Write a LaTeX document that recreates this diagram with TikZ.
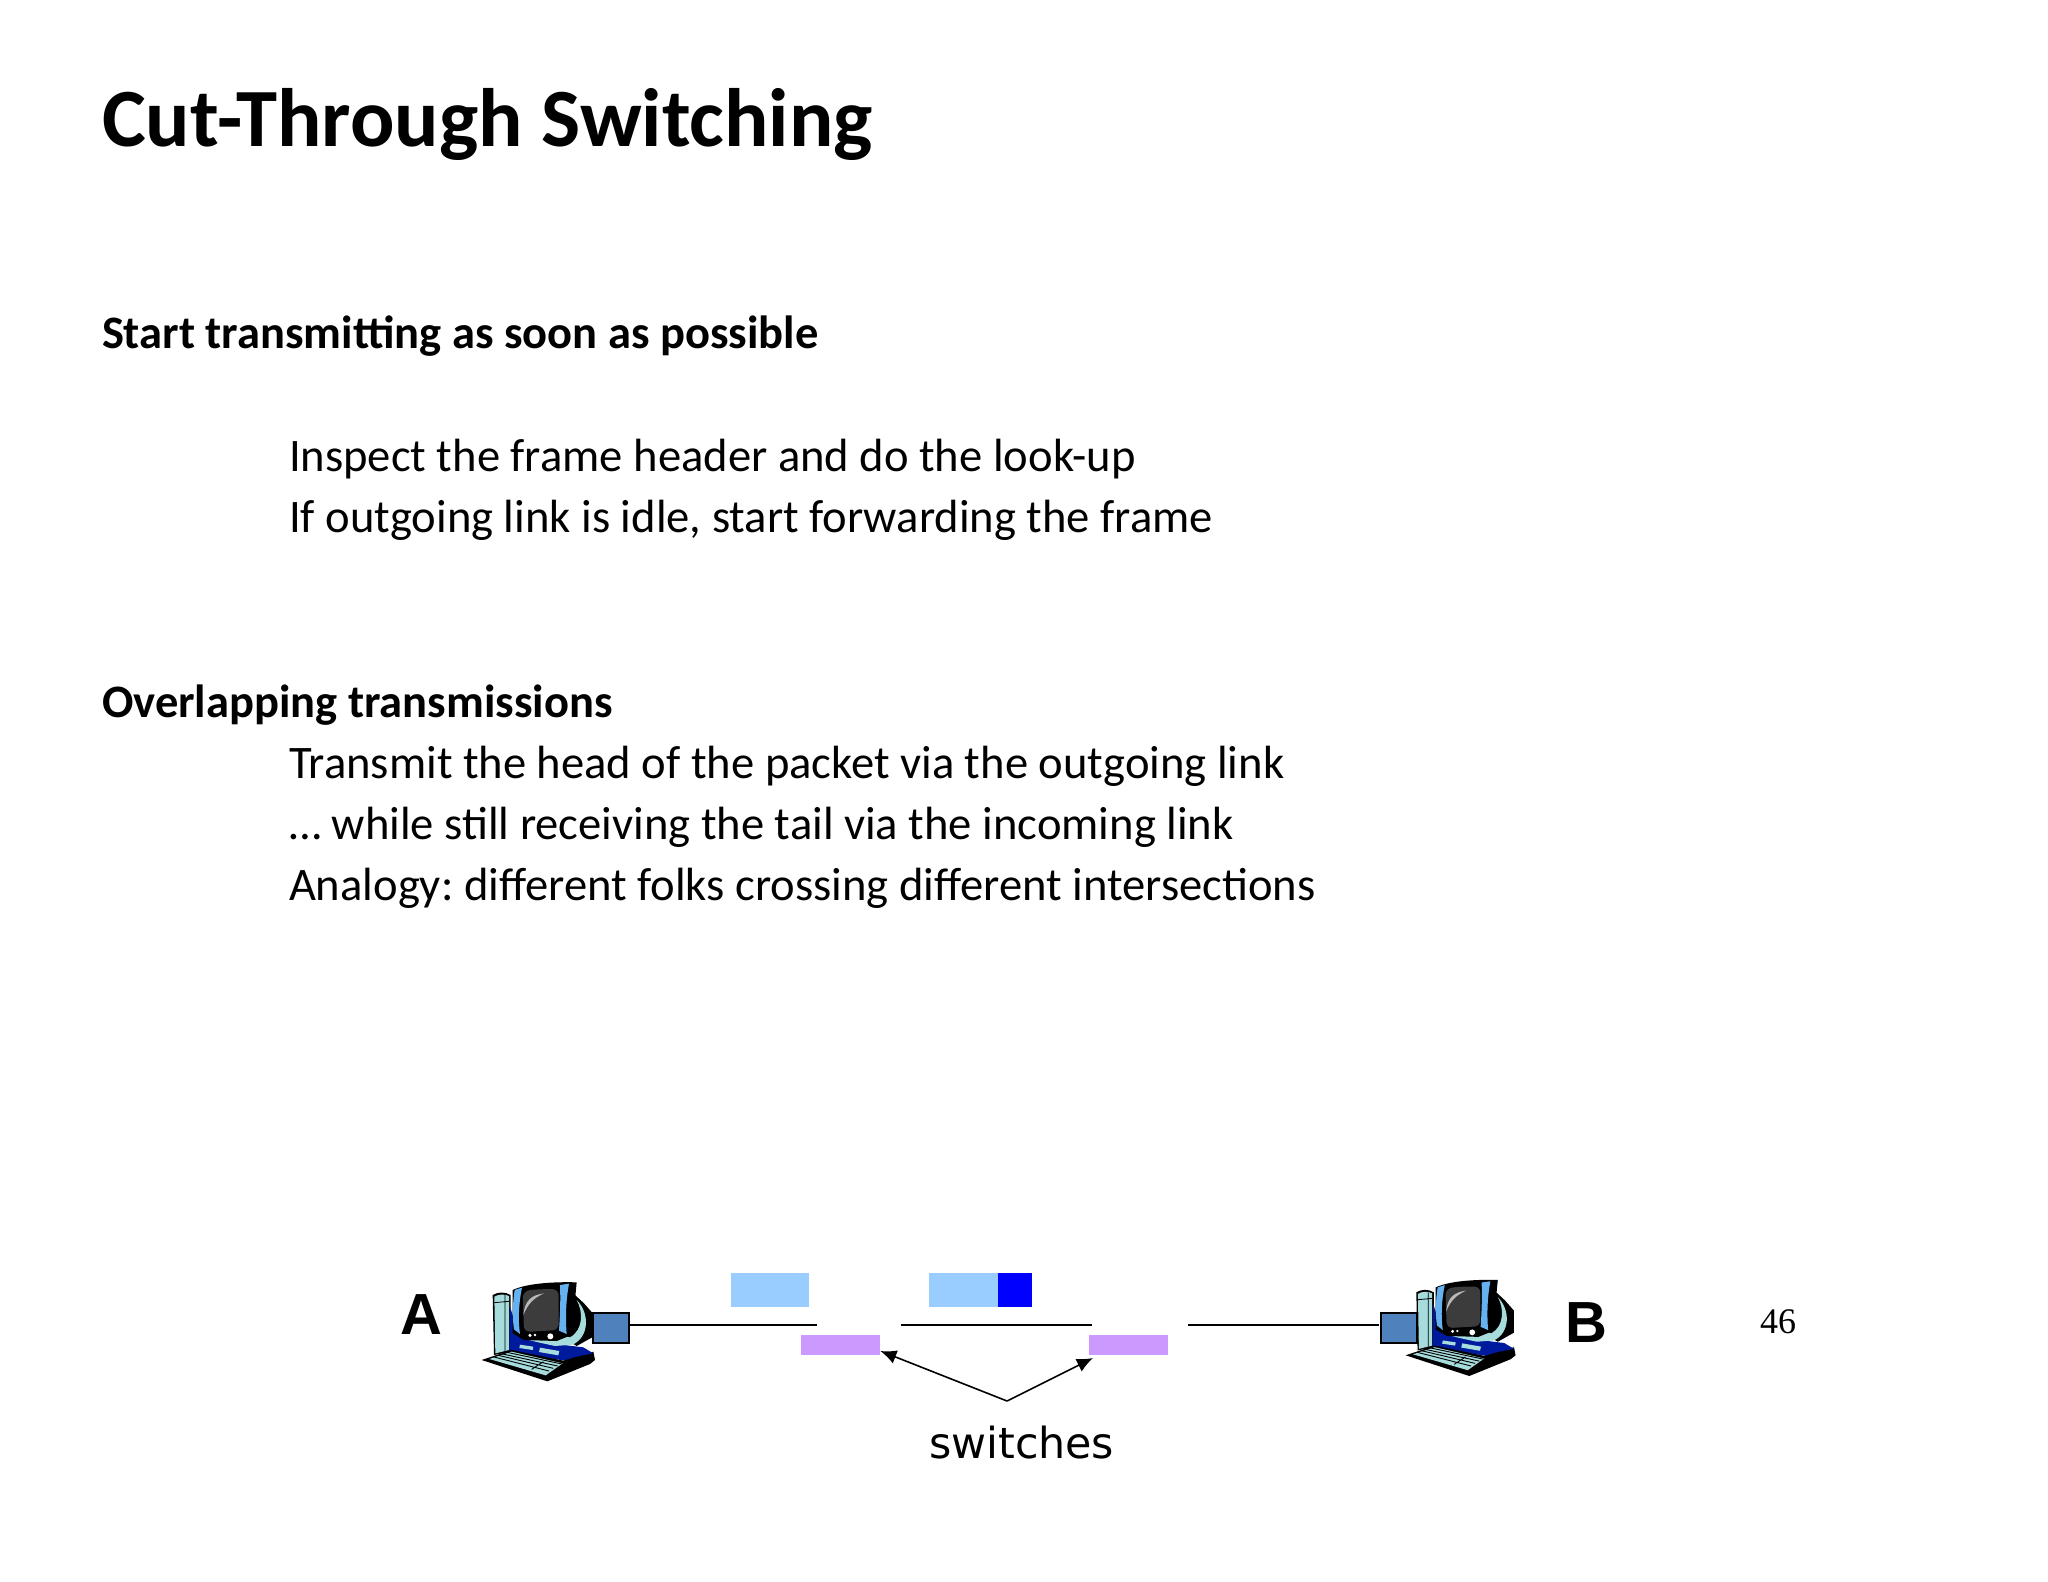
\documentclass[tikz,border=0pt]{standalone}
\usepackage{fontspec}
\setmainfont{Carlito}
\newfontfamily\arialfont{Liberation Sans}
\newfontfamily\timesfont{Liberation Serif}
\newfontfamily\handfont{DejaVu Sans}
\usetikzlibrary{arrows.meta,calc}
\definecolor{pktlight}{HTML}{99CCFF}
\definecolor{pktdark}{HTML}{0000FF}
\definecolor{swfill}{HTML}{CC99FF}
\definecolor{nicfill}{HTML}{4F81BD}
\definecolor{pcteal}{HTML}{A6DCDC}
\definecolor{pcblue}{HTML}{66B2F0}
\definecolor{pcnavy}{HTML}{001A9E}
\definecolor{pcscreen}{HTML}{3C3C3C}
\tikzset{
  txt/.style={anchor=base west,inner sep=0pt,outer sep=0pt,text=black},
  titletxt/.style={txt,font=\bfseries\fontsize{41.4}{46}\selectfont},
  headtxt/.style={txt,font=\bfseries\fontsize{23.25}{28}\selectfont},
  bodytxt/.style={txt,font=\fontsize{23.3}{28}\selectfont},
  endlabel/.style={txt,font=\arialfont\bfseries\fontsize{29}{32}\selectfont},
  box/.style={anchor=north west,inner sep=0pt,outer sep=0pt,draw=none},
  nic/.style={box,fill=nicfill,draw=black,line width=0.7pt},
  link/.style={draw=black,line width=0.9pt},
  pointer/.style={draw=black,line width=0.8pt,-{Latex[length=8pt,width=7pt]}},
  computer/.pic={
    % tower
    \fill[black] (338,165) .. controls (355,155) and (375,155) .. (392,165) -- (392,335) -- (342,345) -- cycle;
    \fill[pcteal] (343,170) .. controls (355,162) and (375,162) .. (387,168) -- (387,330) -- (346,340) -- cycle;
    \draw[black,line width=0.4pt] (343,188) -- (387,184) (375,165) -- (375,333);
    % base
    \fill[pcnavy] (390,200) -- (415,280) -- (470,305) -- (610,322) -- (642,342) -- (555,362) -- (388,335) -- cycle;
    % housing back
    \fill[black] (585,165) -- (612,190) -- (640,222) -- (640,290) -- (590,318) -- (560,300) -- cycle;
    % ring
    \fill[pcteal] (590,180) .. controls (630,220) and (628,290) .. (578,314) -- (525,318) -- (470,306) -- (440,298) -- (530,285) -- (570,292) .. controls (610,270) and (610,215) .. (590,180) -- cycle;
    % front frame
    \fill[black] (398,150) .. controls (440,130) and (520,125) .. (590,127) -- (575,285) -- (530,303) -- (432,300) -- (398,280) -- cycle;
    \fill[pcblue] (404,150) .. controls (412,147) and (420,145) .. (426,143) .. controls (416,190) and (414,240) .. (420,282) -- (402,268) .. controls (396,230) and (398,190) .. (404,150) -- cycle;
    \fill[pcblue] (540,135) -- (567,131) .. controls (558,180) and (556,230) .. (560,282) -- (537,272) .. controls (540,225) and (542,180) .. (540,135) -- cycle;
    \fill[pcscreen,rounded corners=3pt] (428,155) .. controls (460,148) and (500,147) .. (536,148) -- (536,270) -- (432,276) -- cycle;
    \fill[gray!55!white] (430,225) .. controls (435,180) and (455,165) .. (492,160) .. controls (460,175) and (445,190) .. (430,225) -- cycle;
    \fill[white] (450,286) circle[radius=5] (465,285) circle[radius=4] (511,289) circle[radius=9];
    % keyboard
    \fill[black] (305,360) -- (395,330) -- (550,362) -- (640,335) -- (645,360) -- (630,372) -- (502,424) -- cycle;
    \fill[pcteal] (328,357) -- (395,335) -- (548,370) -- (497,406) -- cycle;
    \draw[black,line width=0.45pt] (342,351) -- (507,393) (355,346) -- (520,385) (368,342) -- (533,378) (381,337) -- (546,372) (490,365) -- (455,388);
    \fill[pcteal] (420,314) -- (460,320) -- (458,330) -- (418,324) -- cycle;
    \fill[pcteal] (480,323) -- (538,333) -- (535,346) -- (477,336) -- cycle;
    \fill[pcnavy] (552,357) -- (612,325) -- (640,340) -- cycle;
  }
}
\begin{document}
\begin{tikzpicture}[x=0.5pt,y=-0.5pt]
\frenchspacing
\useasboundingbox (0,0) rectangle (2048,1582);
\fill[white] (0,0) rectangle (2048,1582);

\node[titletxt] (title) at (102,147) {Cut-Through Switching};
\node[headtxt] (h1) at (102,349) {Start transmitting as soon as possible};
\node[bodytxt] (b1) at (289,472) {Inspect the frame header and do the look-up};
\node[bodytxt] (b2) at (289,533) {If outgoing link is idle, start forwarding the frame};
\node[headtxt] (h2) at (102,717) {Overlapping transmissions};
\node[bodytxt] (b3) at (289,778) {Transmit the head of the packet via the outgoing link};
\node[bodytxt] (b4) at (289,839) {… while still receiving the tail via the incoming link};
\node[bodytxt] (b5) at (289,900) {Analogy: different folks crossing different intersections};

\node[endlabel] (la) at (400,1334) {A};
\node[endlabel] (lb) at (1565,1342) {B};
\node[txt,font=\timesfont\fontsize{18}{20}\selectfont] (pg) at (1760,1333) {46};
\node[txt,font=\handfont\fontsize{21.4}{24}\selectfont] (sw) at (929,1458) {switches};

\pic[scale=1/3,x=0.5pt,y=-0.5pt] at (380,1240) {computer};
\pic[scale=0.97/3,x=0.5pt,y=-0.5pt] at (1307,1238.9) {computer};

\node[nic,minimum width=18pt,minimum height=15pt] (nicA) at (593,1313) {};
\node[nic,minimum width=18pt,minimum height=15pt] (nicB) at (1381,1313) {};

\node[box,fill=pktlight,minimum width=39pt,minimum height=17.2pt] (p1) at (731,1272.7) {};
\node[box,fill=pktlight,minimum width=34.5pt,minimum height=17.2pt] (p2) at (929,1272.7) {};
\node[box,fill=pktdark,minimum width=17pt,minimum height=17.2pt] (p3) at (998,1272.7) {};
\node[box,fill=swfill,minimum width=39.7pt,minimum height=10pt] (s1) at (801,1335) {};
\node[box,fill=swfill,minimum width=39.7pt,minimum height=10pt] (s2) at (1089,1335) {};

\coordinate (e1) at (817,1325);
\coordinate (a2) at (901,1325);
\coordinate (e2) at (1092,1325);
\coordinate (a3) at (1188,1325);
\coordinate (e3) at (1379,1325);
\coordinate (apex) at (1007,1401);
\draw[link] (nicA.east |- e1) -- (e1);
\draw[link] (a2) -- (e2);
\draw[link] (a3) -- (e3);
\draw[pointer] (apex) -- ($(s1.south east)+(0,-4)$);
\draw[pointer] (apex) -- ($(s2.south west)+(4,3)$);
\end{tikzpicture}
\end{document}
